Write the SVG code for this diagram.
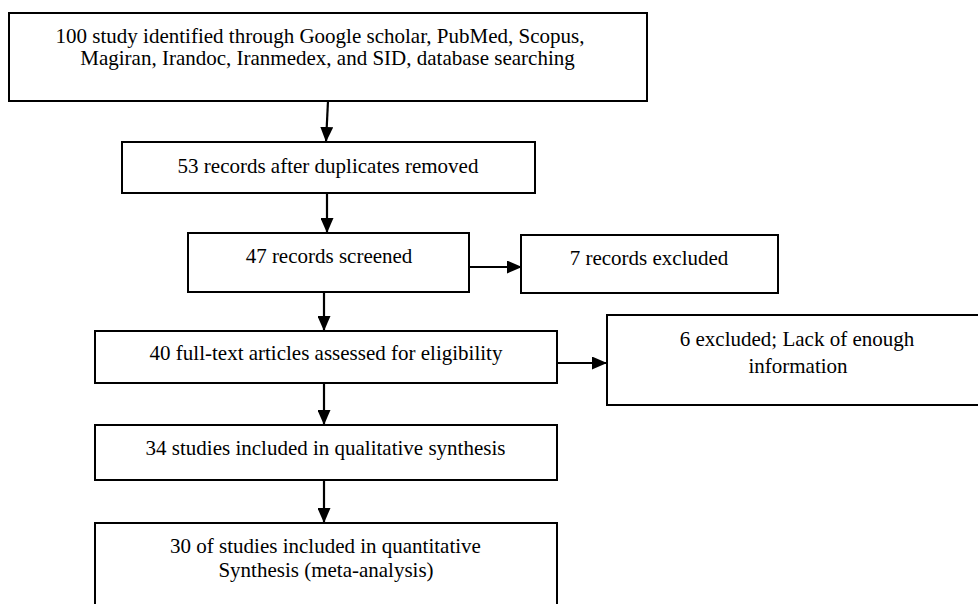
<svg xmlns="http://www.w3.org/2000/svg" width="978" height="604" viewBox="0 0 978 604">
<style>
.box{fill:#fff;stroke:#000;stroke-width:2}
.t{font-family:"Liberation Serif","Times New Roman",serif;font-size:21px;fill:#000;text-anchor:middle}
.c{stroke:#000;stroke-width:2.2;fill:none;marker-end:url(#ah)}
</style>
<defs>
<marker id="ah" markerUnits="userSpaceOnUse" markerWidth="15" markerHeight="13" refX="15" refY="6.5" orient="auto">
<path d="M0,0 L15,6.5 L0,13 Z" fill="#000"/>
</marker>
</defs>
<rect width="978" height="604" fill="#fff"/>
<g id="n1"><rect class="box" x="9" y="13" width="638" height="88"/>
<text class="t" x="320" y="43">100 study identified through Google scholar, PubMed, Scopus,</text>
<text class="t" x="327.5" y="65">Magiran, Irandoc, Iranmedex, and SID, database searching</text></g>
<g id="n2"><rect class="box" x="122" y="142" width="413" height="51"/>
<text class="t" x="328" y="173">53 records after duplicates removed</text></g>
<g id="n3"><rect class="box" x="188" y="233" width="281" height="59"/>
<text class="t" x="329" y="263">47 records screened</text></g>
<g id="n4"><rect class="box" x="521" y="235" width="257" height="58"/>
<text class="t" x="649" y="265">7 records excluded</text></g>
<g id="n5"><rect class="box" x="95" y="331" width="462" height="52"/>
<text class="t" x="326" y="360">40 full-text articles assessed for eligibility</text></g>
<g id="n6"><rect class="box" x="607" y="315" width="385" height="90"/>
<text class="t" x="797" y="346">6 excluded; Lack of enough</text>
<text class="t" x="798" y="373">information</text></g>
<g id="n7"><rect class="box" x="95" y="425" width="462" height="55"/>
<text class="t" x="325.5" y="455">34 studies included in qualitative synthesis</text></g>
<g id="n8"><rect class="box" x="95" y="523" width="462" height="100"/>
<text class="t" x="325.5" y="553">30 of studies included in quantitative</text>
<text class="t" x="326" y="577">Synthesis (meta-analysis)</text></g>
<g id="connectors">
<path class="c" d="M328,101 L326,142"/>
<path class="c" d="M327,193 L327,233"/>
<path class="c" d="M469,267 L522,267"/>
<path class="c" d="M324,292 L324,331"/>
<path class="c" d="M557,363 L607,363"/>
<path class="c" d="M324,383 L324,425"/>
<path class="c" d="M324,480 L324,523"/>
</g>
</svg>
